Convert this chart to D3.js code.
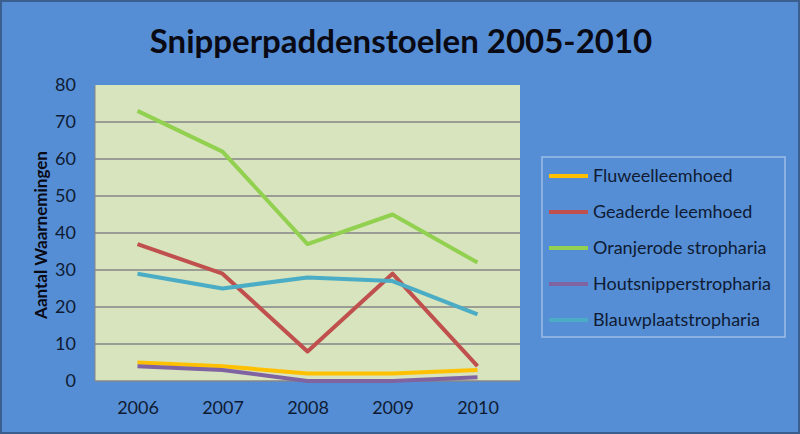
<!DOCTYPE html>
<html><head><meta charset="utf-8">
<script src="https://cdn.jsdelivr.net/npm/d3@7"></script>
<style>body{margin:0;padding:0;background:#fff}svg{display:block}text{font-family:Lato,"Open Sans",sans-serif}</style>
</head><body>
<svg id="c" width="800" height="434"></svg>
<script>
const years = ["2006","2007","2008","2009","2010"];
const seriesNames = ["Fluweelleemhoed","Geaderde leemhoed","Oranjerode stropharia","Houtsnipperstropharia","Blauwplaatstropharia"];
const fluweelleemhoed = [5,4,2,2,3];
const geaderdeLeemhoed = [37,29,8,29,4];
const oranjerodeStropharia = [73,62,37,45,32];
const houtsnipperstropharia = [4,3,0,0,1];
const blauwplaatstropharia = [29,25,28,27,18];
const colors = ["#FFC000","#C0504D","#92D050","#8064A2","#4BACC6"];
const yTicks = [0,10,20,30,40,50,60,70,80];
const title = "Snipperpaddenstoelen 2005-2010";
const yTitle = "Aantal Waarnemingen";

const values = [fluweelleemhoed, geaderdeLeemhoed, oranjerodeStropharia, houtsnipperstropharia, blauwplaatstropharia];
const svg = d3.select("#c");
svg.append("rect").attr("x",0).attr("y",0).attr("width",800).attr("height",434).attr("fill","#558ED5");
svg.append("rect").attr("x",1).attr("y",1).attr("width",798).attr("height",432).attr("fill","none").attr("stroke","#3a5f8f").attr("stroke-width",2);

const L=95,R=520,T=85,B=381;
const x = d3.scalePoint().domain(years).range([L,R]).padding(0.5);
const y = d3.scaleLinear().domain([0,80]).range([B,T]);

svg.append("rect").attr("x",L).attr("y",T).attr("width",R-L).attr("height",B-T).attr("fill","#D7E4BD");
svg.append("g").selectAll("line").data(yTicks.filter(d=>d>0&&d<80)).join("line")
  .attr("x1",L).attr("x2",R).attr("y1",d=>y(d)).attr("y2",d=>y(d))
  .attr("stroke","#868686").attr("stroke-width",1.5);
svg.append("line").attr("x1",L).attr("x2",R).attr("y1",B).attr("y2",B).attr("stroke","#868686").attr("stroke-width",1.5);
svg.append("line").attr("x1",L).attr("x2",L).attr("y1",T).attr("y2",B).attr("stroke","#868686").attr("stroke-width",1);

const yAxis = d3.axisLeft(y).tickValues(yTicks).tickSize(0).tickPadding(19);
const gy = svg.append("g").attr("transform",`translate(${L},0)`).call(yAxis);
gy.select(".domain").remove();
gy.selectAll("text").attr("font-size",18).attr("fill","#0f1b33").attr("font-family","Lato,'Open Sans',sans-serif");

const xAxis = d3.axisBottom(x).tickSize(0).tickPadding(20);
const gx = svg.append("g").attr("transform",`translate(0,${B})`).call(xAxis);
gx.select(".domain").remove();
gx.selectAll("text").attr("font-size",18).attr("fill","#0f1b33").attr("font-family","Lato,'Open Sans',sans-serif");

const line = d3.line().x((d,i)=>x(years[i])).y(d=>y(d));
values.forEach((v,i)=>{
  svg.append("path").datum(v).attr("d",line).attr("fill","none")
    .attr("stroke",colors[i]).attr("stroke-width",4).attr("stroke-linejoin","round");
});

svg.append("text").attr("x",401).attr("y",53).attr("text-anchor","middle")
  .attr("font-size",33).attr("font-weight","bold").attr("fill","#0a0a14").text(title);
svg.append("text").attr("transform",`translate(47,235) rotate(-90)`).attr("text-anchor","middle")
  .attr("font-size",17).attr("font-weight","bold").attr("fill","#0a0a14").text(yTitle);

// legend
const lg = svg.append("g");
lg.append("rect").attr("x",542).attr("y",157).attr("width",243).attr("height",180)
  .attr("fill","none").attr("stroke","#9cbde6").attr("stroke-width",1.5);
seriesNames.forEach((n,i)=>{
  const yy = 176 + i*36;
  lg.append("line").attr("x1",549).attr("x2",588).attr("y1",yy).attr("y2",yy)
    .attr("stroke",colors[i]).attr("stroke-width",4);
  lg.append("text").attr("x",593).attr("y",yy+6).attr("font-size",18).attr("fill","#0f1b33").text(n);
});
</script>
</body></html>
